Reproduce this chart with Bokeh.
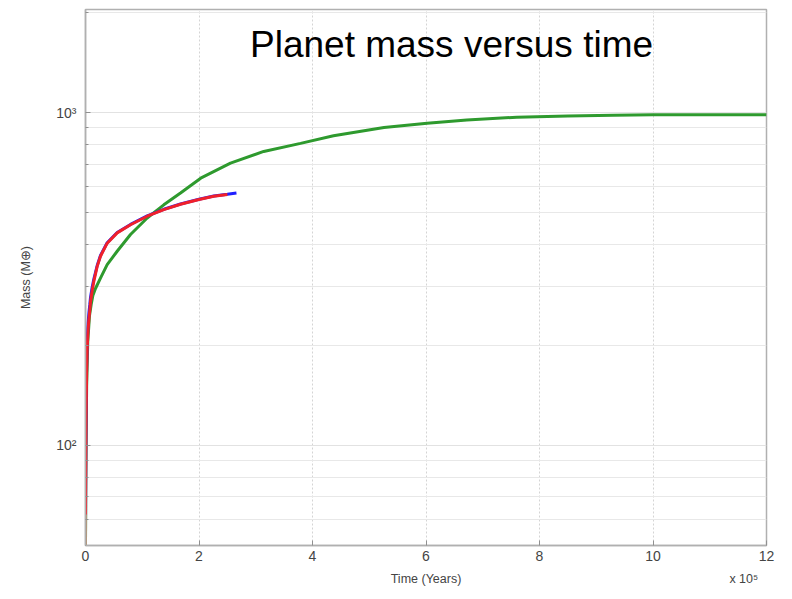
from bokeh.plotting import figure
from bokeh.models import Range1d, FixedTicker, Label, LinearAxis
from bokeh.embed import file_html
from bokeh.resources import INLINE

# ---- data ----
green_t = [0, 0.005, 0.01, 0.02, 0.04, 0.07, 0.1, 0.13, 0.176, 0.264, 0.382, 0.558, 0.793, 1.087, 1.38, 1.674,
           2.03, 2.555, 3.14, 3.79, 4.37, 5.26, 6.02, 6.72, 7.6, 8.5, 9.3, 10, 11, 12]
green_m = [50, 75, 100, 150, 205, 245, 265, 282, 296, 318, 349, 383, 430, 482, 528, 573,
           635, 705, 764, 808, 852, 902, 929, 950, 968, 977, 982, 984, 985, 985]

blue_t = [0, 0.005, 0.01, 0.02, 0.03, 0.045, 0.06, 0.076, 0.088, 0.115, 0.147, 0.206, 0.264, 0.382, 0.558,
          0.793, 1.087, 1.38, 1.674, 2.0, 2.26, 2.5, 2.66]
blue_m = [55, 95, 128, 175, 205, 232, 250, 265, 278, 297, 316, 347, 372, 406, 436, 461, 489, 512, 531, 549, 561, 568, 573]

red_t = [0, 0.005, 0.01, 0.02, 0.03, 0.045, 0.06, 0.076, 0.088, 0.115, 0.147, 0.206, 0.264, 0.382, 0.558,
         0.793, 1.087, 1.38, 1.674, 2.0, 2.26, 2.5]
red_m = [62, 90, 120, 165, 195, 222, 240, 255, 270, 290, 311, 345, 370, 405, 435, 460, 488, 511, 530, 548, 560, 567]

brown_t = [0, 0.001, 0.002]
brown_m = [50, 58, 66]

x_ticks = [0, 2, 4, 6, 8, 10, 12]
y_ticks = [100, 1000]
y_minor = [60, 70, 80, 90, 200, 300, 400, 500, 600, 700, 800, 900, 2000]
y_tick_labels = {100: "10²", 1000: "10³"}

title_text = "Planet mass versus time"
x_label = "Time (Years)"
y_label = "Mass (M⊕)"
x_scale_note = "x 10⁵"
# positions (in x units) of the x-label row texts
x_label_pos = 6
x_note_pos = 11.6

FONT = "Liberation Sans"

p = figure(width=792, height=599, y_axis_type="log",
           x_range=Range1d(0, 12), y_range=Range1d(50, 2040),
           output_backend="svg", toolbar_location=None,
           min_border_left=85, min_border_right=26, min_border_top=9, min_border_bottom=54)

p.background_fill_color = "white"
p.border_fill_color = "white"
p.outline_line_color = "#b0b0b0"
p.outline_line_width = 1.5

p.line(green_t, green_m, line_color="#2e9a2e", line_width=3)
p.line(blue_t, blue_m, line_color="#2020ff", line_width=3)
p.line(brown_t, brown_m, line_color="#b09070", line_width=3)
p.line(red_t, red_m, line_color="#f0202a", line_width=3)

# axes
p.xaxis.ticker = FixedTicker(ticks=x_ticks)
p.yaxis.ticker = FixedTicker(ticks=y_ticks, minor_ticks=y_minor)
p.yaxis.major_label_overrides = y_tick_labels
p.yaxis.axis_label = y_label

for ax in (p.xaxis[0], p.yaxis[0]):
    ax.axis_line_color = "#b0b0b0"
    ax.axis_line_width = 1.5
    ax.major_tick_line_color = "#909090"
    ax.minor_tick_line_color = "#909090"
    ax.major_tick_in = 5
    ax.major_tick_out = 0
    ax.minor_tick_in = 3
    ax.minor_tick_out = 0
    ax.major_label_text_font = FONT
    ax.major_label_text_font_size = "14px"
    ax.major_label_text_color = "#444444"
    ax.axis_label_text_font = FONT
    ax.axis_label_text_font_size = "12.5px"
    ax.axis_label_text_font_style = "normal"
    ax.axis_label_text_color = "#444444"

p.xaxis.minor_tick_line_color = None
p.xaxis.major_label_standoff = 5
p.yaxis.major_label_standoff = 9
p.yaxis.axis_label_standoff = 20

# second row below the x axis: axis title and the exponent note side by side
row = LinearAxis(ticker=FixedTicker(ticks=[x_label_pos, x_note_pos]),
                 major_label_overrides={x_label_pos: x_label, x_note_pos: x_scale_note})
row.axis_line_color = None
row.major_tick_line_color = None
row.minor_tick_line_color = None
row.major_tick_in = 0
row.major_tick_out = 0
row.minor_tick_in = 0
row.minor_tick_out = 0
row.major_label_standoff = 8
row.major_label_text_font = FONT
row.major_label_text_font_size = "12.5px"
row.major_label_text_color = "#444444"
p.add_layout(row, "below")

# grids
p.xgrid.grid_line_color = "#d4d4d4"
p.xgrid.grid_line_dash = "2 2"
p.ygrid.grid_line_color = "#e2e2e2"
p.ygrid.minor_grid_line_color = "#e8e8e8"

# title inside the plot area
p.add_layout(Label(x=6.45, y=1600, text=title_text, text_font=FONT,
                   text_font_size="37px", text_color="black",
                   text_align="center", text_baseline="alphabetic"))

open("out.html", "w").write(file_html(p, INLINE))
